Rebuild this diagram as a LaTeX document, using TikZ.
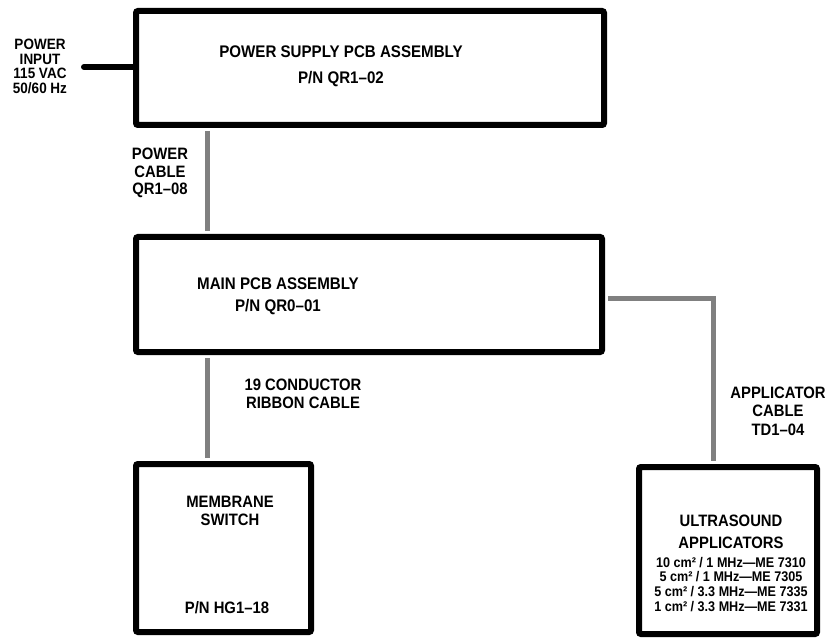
\documentclass[tikz,border=0pt]{standalone}
\usepackage{fontspec}
\setmainfont{Liberation Sans}
\newfontfamily\scanfont[FakeStretch=0.9,Ligatures=TeX]{Liberation Sans}
\usepackage{tikz}
\usetikzlibrary{positioning}

\begin{document}
\begin{tikzpicture}[x=1pt,y=-1pt,
  unit/.style={draw,line width=6pt,rounded corners=2pt,inner sep=0pt},
  lbl/.style={align=center,font=\scanfont\bfseries\fontsize{16.5}{17.5}\selectfont},
  cable/.style={draw=black!50,line width=5pt,shorten <=3pt,shorten >=3pt},
  feed/.style={line width=6pt,line cap=round}]
\useasboundingbox (0,0) rectangle (829,644);
% units
\node[unit,minimum width=468pt,minimum height=114pt] (psu) at (370,68) {};
\node[unit,minimum width=466pt,minimum height=115pt] (main) at (369,294.5) {};
\node[unit,minimum width=175pt,minimum height=168pt] (memb) at (223.5,548) {};
\node[unit,minimum width=178pt,minimum height=167pt] (ultra) at (728,550.5) {};
% texts
\node[lbl,font=\scanfont\bfseries\fontsize{16.8}{26}\selectfont] (psutxt) at (341,66) {POWER SUPPLY PCB ASSEMBLY\\P/N QR1--02};
\node[lbl,font=\scanfont\bfseries\fontsize{16.8}{22}\selectfont] (maintxt) at (278,296) {MAIN PCB ASSEMBLY\\P/N QR0--01};
\node[lbl] (membtxt) at (230,511) {MEMBRANE\\SWITCH};
\node[lbl] (membpn) at (227,608) {P/N HG1--18};
\node[lbl] (ultratxt) at (731,532) {ULTRASOUND\\[5pt]APPLICATORS};
\node[lbl,font=\scanfont\bfseries\fontsize{14}{14.6}\selectfont,below=1pt of ultratxt] (probes)
  {10 cm² / 1 MHz—ME 7310\\5 cm² / 1 MHz—ME 7305\\5 cm² / 3.3 MHz—ME 7335\\1 cm² / 3.3 MHz—ME 7331};
\node[lbl,font=\scanfont\bfseries\fontsize{15}{14.6}\selectfont] (pwrin) at (40,66.5) {POWER\\INPUT\\115 VAC\\50/60 Hz};
\node[lbl] (pwrcab) at (160,173) {POWER\\CABLE\\QR1--08};
\node[lbl,font=\scanfont\bfseries\fontsize{16.5}{18}\selectfont] (ribbon) at (303,394) {19 CONDUCTOR\\RIBBON CABLE};
\node[lbl,font=\scanfont\bfseries\fontsize{16.5}{18.5}\selectfont] (appcab) at (778,411) {APPLICATOR\\CABLE\\TD1--04};
% connections
\coordinate (pin) at (84,67);
\coordinate (tap) at (207,0);
\coordinate (appx) at (713,298);
\draw[feed] (pin) -- (psu.west |- pin);
\draw[cable] (psu.south -| tap) -- (main.north -| tap);
\draw[cable] (main.south -| tap) -- (memb.north -| tap);
\draw[cable] (main.east |- appx) -| (ultra.north -| appx);
\end{tikzpicture}
\end{document}
